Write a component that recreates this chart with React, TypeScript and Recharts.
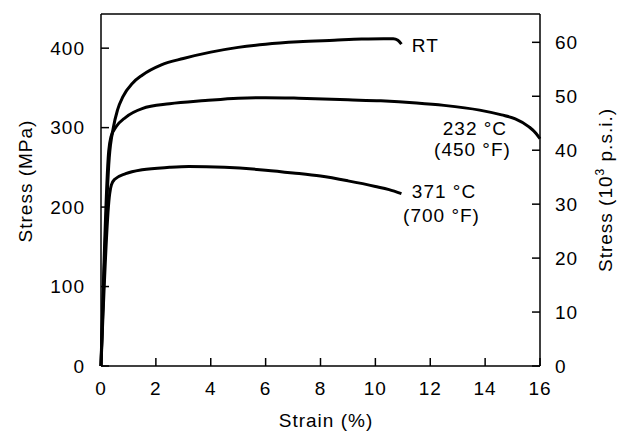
import { LineChart, Line, XAxis, YAxis, ReferenceLine, ReferenceDot } from 'recharts'

// strain (%) vs stress (MPa)
const rtStrain = [0, 0.3, 0.45, 0.6, 0.8, 1.15, 1.5, 2.2, 3.0, 4.0, 5.0, 6.0, 7.2, 8.5, 9.5, 10.3, 10.65, 10.82, 10.95]
const rtStress = [0, 262, 300, 322, 339, 356, 366, 379, 387, 395, 401, 405, 408, 410, 411.5, 412, 412, 410, 405]

const t232Strain = [0, 0.28, 0.36, 0.55, 0.9, 1.5, 2.5, 3.8, 5.0, 6.0, 7.2, 9.0, 10.2, 11.5, 12.5, 13.8, 14.6, 15.1, 15.6, 15.85, 16.0]
const t232Stress = [0, 270, 288, 301, 313, 324, 330, 334, 337, 337.7, 337, 335, 333.7, 331, 328, 322, 316, 311, 301, 293, 286]

const t371Strain = [0, 0.3, 0.38, 0.5, 0.9, 1.5, 2.5, 3.2, 4.5, 6.0, 7.0, 8.0, 9.0, 10.0, 10.5, 10.95]
const t371Stress = [0, 212, 228, 235, 242, 247, 250, 251, 250, 246.5, 243, 239, 233, 226, 222, 217]

const strainTicks = [0, 2, 4, 6, 8, 10, 12, 14, 16]
const mpaTicks = [0, 100, 200, 300, 400]
const ksiTicks = [0, 10, 20, 30, 40, 50, 60]

const MPA_MAX = 443
const KSI_MAX = 65.25
const MPA_PER_KSI = 6.895

const toPoints = (xs: number[], ys: number[]) => xs.map((x, i) => ({ x, y: ys[i] }))

const rt = toPoints(rtStrain, rtStress)
const t232 = toPoints(t232Strain, t232Stress)
const t371 = toPoints(t371Strain, t371Stress)
// same RT curve in ksi, only used to bind the right axis (drawn invisible)
const rtKsi = rt.map((p) => ({ x: p.x, y: p.y / MPA_PER_KSI }))

const FONT = '"Liberation Sans", Arial, Helvetica, sans-serif'
const tickStyle = { fill: '#000', fontSize: 19 }
const axisStroke = { stroke: '#000', strokeWidth: 1.5 }

function CurveLabel({ viewBox, lines, anchor }: any) {
  const { x, y } = viewBox
  return (
    <text x={x} y={y} textAnchor={anchor} fill="#000" fontSize={19} dominantBaseline="central">
      {lines}
    </text>
  )
}

export default function App() {
  return (
    <div style={{ position: 'absolute', left: 0, top: 0, fontFamily: FONT, letterSpacing: '1px', background: '#fff' }}>
      <LineChart width={621} height={431} margin={{ top: 14, right: 21, left: 0, bottom: 0 }}>
        <XAxis
          type="number"
          dataKey="x"
          domain={[0, 16]}
          ticks={strainTicks}
          height={65}
          tickSize={-8}
          tickMargin={24}
          tick={tickStyle}
          axisLine={axisStroke}
          tickLine={axisStroke}
          allowDuplicatedCategory={false}
        />
        <YAxis
          yAxisId="left"
          type="number"
          domain={[0, MPA_MAX]}
          ticks={mpaTicks}
          width={101}
          tickSize={-8}
          tickMargin={24}
          tick={tickStyle}
          axisLine={axisStroke}
          tickLine={axisStroke}
        />
        <YAxis
          yAxisId="right"
          orientation="right"
          type="number"
          domain={[0, KSI_MAX]}
          allowDataOverflow
          ticks={ksiTicks}
          width={60}
          tickSize={-8}
          tickMargin={23}
          tick={tickStyle}
          axisLine={axisStroke}
          tickLine={axisStroke}
        />
        <ReferenceLine yAxisId="left" y={MPA_MAX} stroke="#000" strokeWidth={1.5} />
        <Line yAxisId="right" data={rtKsi} dataKey="y" type="monotoneX" stroke="none" strokeWidth={0} dot={false} activeDot={false} legendType="none" isAnimationActive={false} />
        <Line yAxisId="left" data={rt} dataKey="y" type="monotoneX" stroke="#000" strokeWidth={3} dot={false} isAnimationActive={false} />
        <Line yAxisId="left" data={t232} dataKey="y" type="monotoneX" stroke="#000" strokeWidth={3} dot={false} isAnimationActive={false} />
        <Line yAxisId="left" data={t371} dataKey="y" type="monotoneX" stroke="#000" strokeWidth={3} dot={false} isAnimationActive={false} />

        <ReferenceDot yAxisId="left" x={11.33} y={403} r={0} fill="none" stroke="none"
          label={(p: any) => <CurveLabel {...p} anchor="start" lines="RT" />} />
        <ReferenceDot yAxisId="left" x={14.8} y={299.5} r={0} fill="none" stroke="none"
          label={(p: any) => <CurveLabel {...p} anchor="end" lines="232 °C" />} />
        <ReferenceDot yAxisId="left" x={14.94} y={272} r={0} fill="none" stroke="none"
          label={(p: any) => <CurveLabel {...p} anchor="end" lines="(450 °F)" />} />
        <ReferenceDot yAxisId="left" x={11.33} y={219} r={0} fill="none" stroke="none"
          label={(p: any) => <CurveLabel {...p} anchor="start" lines="371 °C" />} />
        <ReferenceDot yAxisId="left" x={11.01} y={190} r={0} fill="none" stroke="none"
          label={(p: any) => <CurveLabel {...p} anchor="start" lines="(700 °F)" />} />

        <text x={326} y={427} textAnchor="middle" fill="#000" fontSize={19}>Strain (%)</text>
        <text x={32} y={181} transform="rotate(-90, 32, 181)" textAnchor="middle" fill="#000" fontSize={19}>
          Stress (MPa)
        </text>
        <text x={612} y={190} transform="rotate(-90, 612, 190)" textAnchor="middle" fill="#000" fontSize={19}>
          Stress (10
          <tspan dy={-8} fontSize={12}>3</tspan>
          <tspan dy={8}> p.s.i.)</tspan>
        </text>
      </LineChart>
    </div>
  )
}
